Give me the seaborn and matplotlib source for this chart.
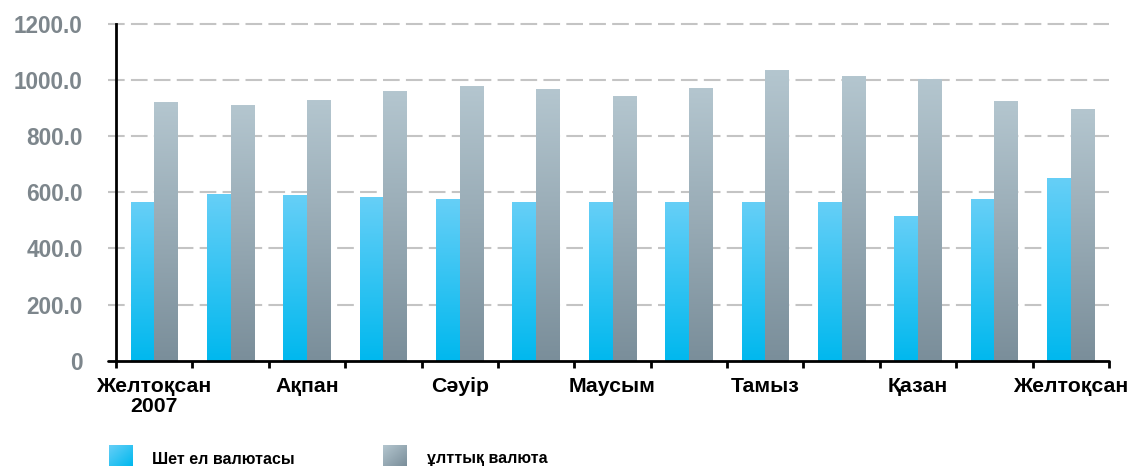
import numpy as np
import pandas as pd
import seaborn as sns
import matplotlib.pyplot as plt
from matplotlib.colors import LinearSegmentedColormap

sns.set_style("white")
plt.rcParams["font.family"] = ["Liberation Sans", "DejaVu Sans"]
plt.rcParams["font.weight"] = "bold"

months = ["Желтоқсан\n2007", "Қаңтар", "Ақпан", "Наурыз", "Сәуір", "Мамыр", "Маусым",
          "Шілде", "Тамыз", "Қыркүйек", "Қазан", "Қараша", "Желтоқсан"]
shown_labels = ["Желтоқсан\n2007", "", "Ақпан", "", "Сәуір", "", "Маусым",
                "", "Тамыз", "", "Қазан", "", "Желтоқсан"]
foreign = [566, 594, 590, 583, 576, 566, 566, 566, 566, 566, 516, 576, 650]
national = [922, 911, 929, 961, 979, 968, 943, 972, 1036, 1015, 1004, 925, 897]
series_names = ["Шет ел валютасы", "ұлттық валюта"]
y_ticks = [0, 200, 400, 600, 800, 1000, 1200]
y_ticklabels = ["0", "200.0", "400.0", "600.0", "800.0", "1000.0", "1200.0"]

df = pd.DataFrame({
    "month": months * 2,
    "value": foreign + national,
    "series": [series_names[0]] * len(months) + [series_names[1]] * len(months),
})

gradients = {
    series_names[0]: ("#66cff7", "#00b8ee"),
    series_names[1]: ("#b4c6cf", "#7a8e9a"),
}

fig = plt.figure(figsize=(11.31, 4.66), dpi=100)
ax = fig.add_axes([116 / 1131, 1 - 360.7 / 466, (1109 - 116) / 1131, (360.7 - 24) / 466])

sns.barplot(data=df, x="month", y="value", hue="series", order=months,
            hue_order=series_names, palette=[gradients[s][1] for s in series_names],
            width=0.62, gap=0, dodge=True, legend=False, ax=ax, zorder=3)

# vertical gradient fill for each bar
grad = np.linspace(0, 1, 256).reshape(-1, 1)
bars = [p for p in ax.patches if p.get_height() > 0]
for i, p in enumerate(bars):
    s = series_names[0] if i < len(months) else series_names[1]
    cmap = LinearSegmentedColormap.from_list("g", gradients[s])
    x0, y0 = p.get_x(), p.get_y()
    x1, y1 = x0 + p.get_width(), y0 + p.get_height()
    im = ax.imshow(grad, cmap=cmap, extent=[x0, x1, y0, y1], origin="upper",
                   aspect="auto", zorder=3)
    im.set_clip_path(p)
    p.set_facecolor("none")
    p.set_edgecolor("none")

# grid
for yv in y_ticks[1:]:
    ax.axhline(yv, xmin=-0.008, xmax=1, color="#c4c4c4", lw=1.5,
               dashes=(8, 3), clip_on=False, zorder=1)
ax.axhline(0, xmin=-0.008, xmax=1, color="black", lw=2, clip_on=False, zorder=4)

ax.set_xlim(-0.5, len(months) - 0.5)
ax.set_ylim(0, 1200)

for side in ["top", "right", "bottom"]:
    ax.spines[side].set_visible(False)
ax.spines["left"].set_color("black")
ax.spines["left"].set_linewidth(2)

ax.set_yticks(y_ticks)
ax.set_yticklabels(y_ticklabels)
ax.tick_params(axis="y", length=0, pad=24, labelsize=16.3, labelcolor="#7d868c")

ax.set_xticks(range(len(months)))
ax.set_xticklabels(shown_labels, fontsize=15.3, fontweight="bold", color="black",
                   linespacing=1.05)
ax.set_xticks(np.arange(-0.5, len(months), 1.0), minor=True)
ax.tick_params(axis="x", which="major", length=0, pad=12)
ax.tick_params(axis="x", which="minor", length=5, width=2, color="black",
               direction="out", bottom=True)
ax.set_xlabel("")
ax.set_ylabel("")

# legend
lgrad = np.add.outer(np.linspace(0, 1, 64), np.linspace(0, 1, 64)) / 2
for left, text_x, s in [(109, 152, series_names[0]), (383, 427, series_names[1])]:
    sw = fig.add_axes([left / 1131, 0, 24 / 1131, 21 / 466])
    sw.imshow(lgrad, cmap=LinearSegmentedColormap.from_list("g", gradients[s]),
              aspect="auto")
    sw.axis("off")
    fig.text(text_x / 1131, 1 - 459 / 466, s, fontsize=11.5, fontweight="bold",
             color="black", va="center", ha="left")

fig.savefig("out.png", dpi=100)
